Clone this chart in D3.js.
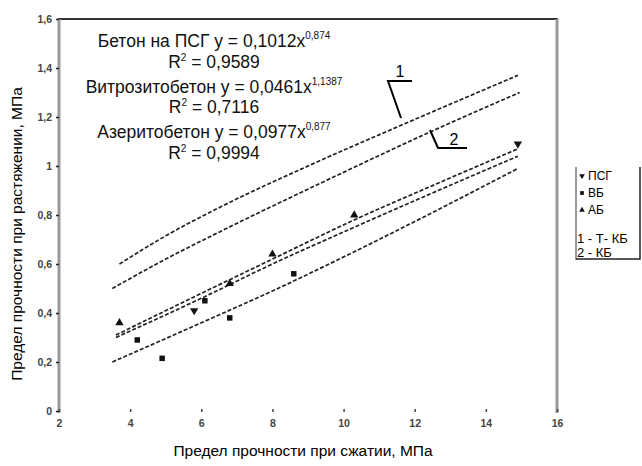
<!DOCTYPE html>
<html>
<head>
<meta charset="utf-8">
<script src="https://cdn.jsdelivr.net/npm/d3@7"></script>
<style>
  body { margin: 0; background: #fff; }
  svg { font-family: "Liberation Sans", Arial, sans-serif; }
</style>
</head>
<body>
<svg width="642" height="466"></svg>
<script>
// tick values
var xTicks = [2, 4, 6, 8, 10, 12, 14, 16];
var yTicks = [0, 0.2, 0.4, 0.6, 0.8, 1, 1.2, 1.4, 1.6];

// curves
var line1X = [3.7, 5, 6.5, 9, 11.6, 14.9];
var line1Y = [0.60, 0.715, 0.83, 1.0, 1.165, 1.37];
var line2X = [3.5, 5, 6.5, 9.5, 12.45, 14.95];
var line2Y = [0.50, 0.62, 0.73, 0.94, 1.14, 1.30];
var psgX = [3.6, 6, 8, 10.3, 12.5, 14.9];
var psgY = [0.31, 0.48, 0.62, 0.78, 0.92, 1.07];
var abX = [3.6, 6, 8, 10.3, 12.5, 14.9];
var abY = [0.30, 0.46, 0.60, 0.75, 0.89, 1.04];
var vbX = [3.5, 6, 8, 10.3, 12.5, 14.9];
var vbY = [0.20, 0.36, 0.49, 0.65, 0.81, 0.99];

// points
var psgPtsX = [5.8, 14.9];
var psgPtsY = [0.41, 1.09];
var vbPtsX = [4.2, 4.9, 6.1, 6.8, 8.6];
var vbPtsY = [0.29, 0.215, 0.45, 0.38, 0.56];
var abPtsX = [3.7, 6.8, 8.0, 10.3];
var abPtsY = [0.36, 0.52, 0.64, 0.80];

var eqMain = ["Бетон на ПСГ y = 0,1012x", "Витрозитобетон y = 0,0461x", "Азеритобетон y = 0,0977x"];
var eqPow = ["0,874", "1,1387", "0,877"];
var r2Vals = ["0,9589", "0,7116", "0,9994"];

var legendNames = ["ПСГ", "ВБ", "АБ"];
var legendNotes = ["1 - Т- КБ", "2 - КБ"];

var svg = d3.select("svg");

var x = d3.scaleLinear().domain([2, 16]).range([59, 557]);
var y = d3.scaleLinear().domain([0, 1.6]).range([411, 19]);

function zipPts(xs, ys) {
  return xs.map(function(v, i) { return [v, ys[i]]; });
}
function comma(d) { return String(d).replace(".", ","); }

// frame: top dark, left and right grey
svg.append("line").attr("x1", 58).attr("x2", 558).attr("y1", 19).attr("y2", 19)
  .attr("stroke", "#333").attr("stroke-width", 2);
svg.append("line").attr("x1", 557).attr("x2", 557).attr("y1", 19).attr("y2", 413)
  .attr("stroke", "#999").attr("stroke-width", 3);

var yAxis = svg.append("g")
  .attr("transform", "translate(59,0)")
  .call(d3.axisLeft(y).tickValues(yTicks).tickFormat(comma).tickSize(3).tickSizeOuter(0).tickPadding(4));
yAxis.select(".domain").attr("stroke", "#999").attr("stroke-width", 3).attr("d", "M0,19V413");
yAxis.selectAll(".tick line").attr("stroke", "#222").attr("stroke-width", 1.5);
yAxis.selectAll("text").attr("font-size", 10.5).attr("font-weight", "bold").attr("fill", "#444")
  .attr("font-family", "Liberation Sans, Arial, sans-serif");

var xAxis = svg.append("g")
  .attr("transform", "translate(0,409)")
  .call(d3.axisBottom(x).tickValues(xTicks).tickSize(3).tickSizeOuter(0).tickPadding(8));
xAxis.select(".domain").remove();
xAxis.selectAll(".tick line").attr("stroke", "#444").attr("stroke-width", 1.5);
xAxis.selectAll("text").attr("font-size", 10.5).attr("font-weight", "bold").attr("fill", "#444")
  .attr("font-family", "Liberation Sans, Arial, sans-serif");

// axis titles
svg.append("text").attr("x", 303).attr("y", 456).attr("text-anchor", "middle")
  .attr("font-size", 15.5).text("Предел прочности при сжатии, МПа");
svg.append("text").attr("transform", "translate(22,234) rotate(-90)").attr("text-anchor", "middle")
  .attr("font-size", 15.5).text("Предел прочности при растяжении, МПа");

// curves
var line = d3.line()
  .x(function(d) { return x(d[0]); })
  .y(function(d) { return y(d[1]); })
  .curve(d3.curveMonotoneX);

var curves = [zipPts(line1X, line1Y), zipPts(line2X, line2Y), zipPts(psgX, psgY), zipPts(abX, abY), zipPts(vbX, vbY)];
svg.append("g").selectAll("path")
  .data(curves)
  .enter().append("path")
  .attr("d", line)
  .attr("fill", "none")
  .attr("stroke", "#222")
  .attr("stroke-width", 1.7)
  .attr("stroke-dasharray", "4,2");

// markers
var sym = d3.symbol().size(30);
function drawPts(xs, ys, type, rot) {
  svg.append("g").selectAll("path")
    .data(zipPts(xs, ys))
    .enter().append("path")
    .attr("d", sym.type(type)())
    .attr("transform", function(d) { return "translate(" + x(d[0]) + "," + y(d[1]) + ") rotate(" + rot + ")"; })
    .attr("fill", "#111");
}
drawPts(psgPtsX, psgPtsY, d3.symbolTriangle, 180);
drawPts(vbPtsX, vbPtsY, d3.symbolSquare, 0);
drawPts(abPtsX, abPtsY, d3.symbolTriangle, 0);

// equations
var eqBase = [47, 93, 138];
var r2Base = [68, 113, 159];
eqMain.forEach(function(t, i) {
  var tx = svg.append("text").attr("x", 214).attr("y", eqBase[i]).attr("text-anchor", "middle")
    .attr("font-size", 17.5).attr("fill", "#111");
  tx.append("tspan").text(t);
  tx.append("tspan").attr("font-size", 10).attr("dy", -8).text(eqPow[i]);
  var r = svg.append("text").attr("x", 214).attr("y", r2Base[i]).attr("text-anchor", "middle")
    .attr("font-size", 17.5).attr("fill", "#111");
  r.append("tspan").text("R");
  r.append("tspan").attr("font-size", 10).attr("dy", -7).text("2");
  r.append("tspan").attr("dy", 7).text(" = " + r2Vals[i]);
});

// callouts 1 and 2
svg.append("path").attr("d", "M412,81H388L401,118").attr("fill", "none").attr("stroke", "#000").attr("stroke-width", 2);
svg.append("text").attr("x", 400).attr("y", 77).attr("text-anchor", "middle").attr("font-size", 16).text("1");
svg.append("path").attr("d", "M430,130L438,148H467").attr("fill", "none").attr("stroke", "#000").attr("stroke-width", 2);
svg.append("text").attr("x", 454).attr("y", 145).attr("text-anchor", "middle").attr("font-size", 16).text("2");

// legend
var lg = svg.append("g");
lg.append("line").attr("x1", 576).attr("x2", 576).attr("y1", 167).attr("y2", 260).attr("stroke", "#999").attr("stroke-width", 2);
lg.append("path").attr("d", "M576,259H640V167").attr("fill", "none").attr("stroke", "#222").attr("stroke-width", 1.5);
var lgSym = d3.symbol().size(14);
var lgTypes = [d3.symbolTriangle, d3.symbolSquare, d3.symbolTriangle];
var lgRot = [180, 0, 0];
legendNames.forEach(function(n, i) {
  var cy = 176 + i * 17;
  lg.append("path").attr("d", lgSym.type(lgTypes[i])())
    .attr("transform", "translate(582," + cy + ") rotate(" + lgRot[i] + ")").attr("fill", "#111");
  lg.append("text").attr("x", 588).attr("y", cy + 4).attr("font-size", 12).text(n);
});
legendNotes.forEach(function(n, i) {
  lg.append("text").attr("x", 577).attr("y", 243 + i * 14).attr("font-size", 13).text(n);
});
</script>
</body>
</html>
